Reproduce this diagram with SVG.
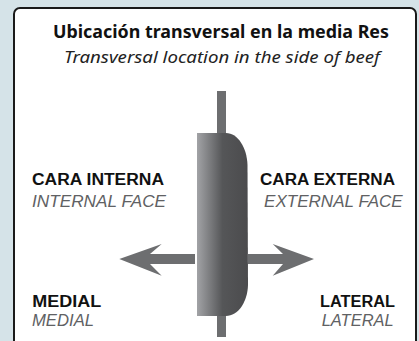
<svg xmlns="http://www.w3.org/2000/svg" width="419" height="341" viewBox="0 0 419 341">
<defs>
<linearGradient id="gBody" x1="197" y1="0" x2="248" y2="0" gradientUnits="userSpaceOnUse">
<stop offset="0" stop-color="#a2a3a6"/>
<stop offset="0.5" stop-color="#555658"/>
<stop offset="1" stop-color="#4b4b4d"/>
</linearGradient>
<style>
.t{font-family:"Noto Sans","Open Sans","Liberation Sans",sans-serif}
.l{font-family:"Liberation Sans","Noto Sans",sans-serif}
.b{font-weight:bold;font-size:16px;fill:#111}
.i{font-style:italic;font-size:16px;fill:#606163}
.g{fill:#6d6e70}
</style>
</defs>
<rect x="0" y="0" width="419" height="341" fill="#d5e3e8"/>
<rect id="frame" x="14" y="8" width="402" height="350" rx="6" fill="#ffffff" stroke="#1a1a1a" stroke-width="2"/>
<g id="title" class="t">
<text x="221" y="37.7" text-anchor="middle" class="b" style="font-size:17.5px" textLength="336" lengthAdjust="spacingAndGlyphs">Ubicación transversal en la media Res</text>
<text x="222" y="63" text-anchor="middle" class="i" style="fill:#222;font-size:17px" textLength="316" lengthAdjust="spacingAndGlyphs">Transversal location in the side of beef</text>
</g>
<g id="connectors">
<rect x="217" y="91" width="9" height="246" class="g"/>
<path class="g" d="M195 254 L150 254 L161.7 244 L119.3 259 L161.7 275.7 L150 264 L195 264 Z"/>
<path class="g" d="M248 254 L283 254 L272.7 244 L314 259 L272.7 275.7 L283 264 L248 264 Z"/>
</g>
<g id="body">
<path fill="url(#gBody)" d="M197 133 L226 133 C238 133 247 148 247.5 165 L248 285 C247.5 302 238 316 226 316 L197 316 Z"/>
</g>
<g id="internal" class="l">
<text x="32" y="185" class="b" textLength="132" lengthAdjust="spacingAndGlyphs">CARA INTERNA</text>
<text x="32" y="207" class="i" textLength="134" lengthAdjust="spacingAndGlyphs">INTERNAL FACE</text>
</g>
<g id="external" class="l">
<text x="260" y="185" class="b" textLength="135" lengthAdjust="spacingAndGlyphs">CARA EXTERNA</text>
<text x="264" y="207" class="i" textLength="138.7" lengthAdjust="spacingAndGlyphs">EXTERNAL FACE</text>
</g>
<g id="medial" class="l">
<text x="32.3" y="306.7" class="b" textLength="69" lengthAdjust="spacingAndGlyphs">MEDIAL</text>
<text x="32" y="325.7" class="i" textLength="62" lengthAdjust="spacingAndGlyphs">MEDIAL</text>
</g>
<g id="lateral" class="l">
<text x="320" y="306.7" class="b" textLength="75" lengthAdjust="spacingAndGlyphs">LATERAL</text>
<text x="321.7" y="325.7" class="i" textLength="72" lengthAdjust="spacingAndGlyphs">LATERAL</text>
</g>
</svg>
